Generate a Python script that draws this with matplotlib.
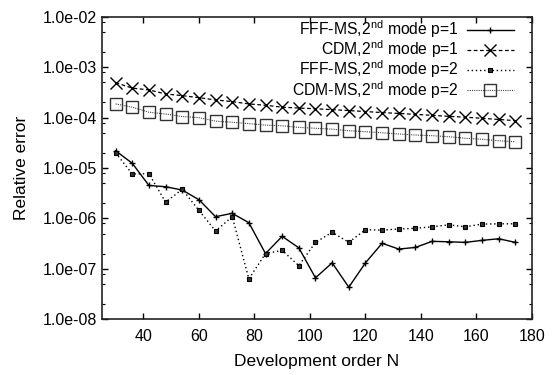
import numpy as np
import matplotlib.pyplot as plt
from matplotlib.ticker import LogLocator, NullFormatter, FixedLocator

plt.rcParams['font.family'] = ['Liberation Sans', 'DejaVu Sans']
plt.rcParams['mathtext.fontset'] = 'custom'
plt.rcParams['mathtext.rm'] = 'Liberation Sans'

# development order N
N = np.arange(30, 175, 6)

# relative errors
fff_p1 = [2.2e-5, 1.24e-5, 4.5e-6, 4.25e-6, 3.65e-6, 2.35e-6, 1.08e-6, 1.26e-6, 8.2e-7,
          2.0e-7, 4.4e-7, 2.6e-7, 6.6e-8, 1.31e-7, 4.3e-8, 1.31e-7, 3.2e-7, 2.46e-7,
          2.65e-7, 3.5e-7, 3.43e-7, 3.34e-7, 3.66e-7, 3.94e-7, 3.34e-7]
cdm_p1 = [4.95e-4, 3.85e-4, 3.55e-4, 2.95e-4, 2.73e-4, 2.49e-4, 2.24e-4, 2.08e-4, 1.87e-4,
          1.76e-4, 1.61e-4, 1.55e-4, 1.5e-4, 1.44e-4, 1.38e-4, 1.32e-4, 1.26e-4, 1.21e-4,
          1.16e-4, 1.11e-4, 1.06e-4, 1.02e-4, 9.7e-5, 9.2e-5, 8.7e-5]
fff_p2 = [2.0e-5, 7.6e-6, 7.7e-6, 2.1e-6, 3.77e-6, 1.44e-6, 5.6e-7, 1.08e-6, 6.3e-8,
          2.0e-7, 2.32e-7, 1.15e-7, 3.34e-7, 5.3e-7, 3.34e-7, 5.95e-7, 5.85e-7, 6.15e-7,
          6.35e-7, 6.8e-7, 7.45e-7, 6.8e-7, 7.7e-7, 7.8e-7, 7.8e-7]
cdm_p2 = [1.87e-4, 1.61e-4, 1.28e-4, 1.18e-4, 1.05e-4, 1.0e-4, 8.5e-5, 8.1e-5, 7.6e-5,
          7.1e-5, 6.9e-5, 6.4e-5, 6.15e-5, 5.9e-5, 5.5e-5, 5.26e-5, 5.0e-5, 4.73e-5,
          4.52e-5, 4.38e-5, 4.18e-5, 3.89e-5, 3.72e-5, 3.48e-5, 3.32e-5]

labels = ['FFF-MS,2$^{\\rm nd}$ mode p=1', 'CDM,2$^{\\rm nd}$ mode p=1',
          'FFF-MS,2$^{\\rm nd}$ mode p=2', 'CDM-MS,2$^{\\rm nd}$ mode p=2']

fig = plt.figure(figsize=(5.53, 3.75), dpi=100)
ax = fig.add_axes([0.184, 0.149, 0.778, 0.806])

ax.plot(N, fff_p1, color='black', lw=1.0, marker='+', ms=5, mew=1.0, label=labels[0])
ax.plot(N, cdm_p1, color='black', lw=0.9, ls=(0, (3, 2)), marker='x', ms=9, mew=1.0,
        label=labels[1])
ax.plot(N, fff_p2, color='black', lw=1.0, ls=(0, (1, 2)), marker='s', ms=3.5, mew=0.8,
        mfc='#333333', label=labels[2])
ax.plot(N, cdm_p2, color='#444444', lw=0.8, ls=(0, (1, 1)), marker='s', ms=9, mew=1.0,
        mfc='none', mec='#333333', label=labels[3])

ax.set_yscale('log')
ax.set_xlim(25, 180)
ax.set_ylim(1e-8, 1e-2)
ax.xaxis.set_major_locator(FixedLocator([40, 60, 80, 100, 120, 140, 160, 180]))
ax.yaxis.set_minor_locator(LogLocator(base=10, subs=[2, 5, 8], numticks=10))
ax.yaxis.set_minor_formatter(NullFormatter())
ax.set_yticks([10.0**k for k in range(-8, -1)])
ax.set_yticklabels(['1.0e-%02d' % (-k) for k in range(-8, -1)])

ax.tick_params(which='both', direction='in', top=True, right=True, labelsize=11.5)
ax.tick_params(axis='y', which='major', length=4, width=1.0, pad=3.5)
ax.tick_params(axis='x', which='major', length=4, width=1.0, pad=7)
ax.tick_params(which='minor', length=2, width=0.8)
for s in ax.spines.values():
    s.set_linewidth(1.2)
    s.set_color('#222222')

ax.set_xlabel('Development order N', fontsize=12.5, labelpad=7)
ax.set_ylabel('Relative error', fontsize=12.5, labelpad=10)

ax.legend(loc='upper right', bbox_to_anchor=(0.965, 1.005), markerfirst=False,
          frameon=False, fontsize=11.3, numpoints=1, handlelength=3.0,
          handletextpad=0.5, labelspacing=-0.1, borderaxespad=0.1, borderpad=0.1)

fig.savefig('out.png', dpi=100)
